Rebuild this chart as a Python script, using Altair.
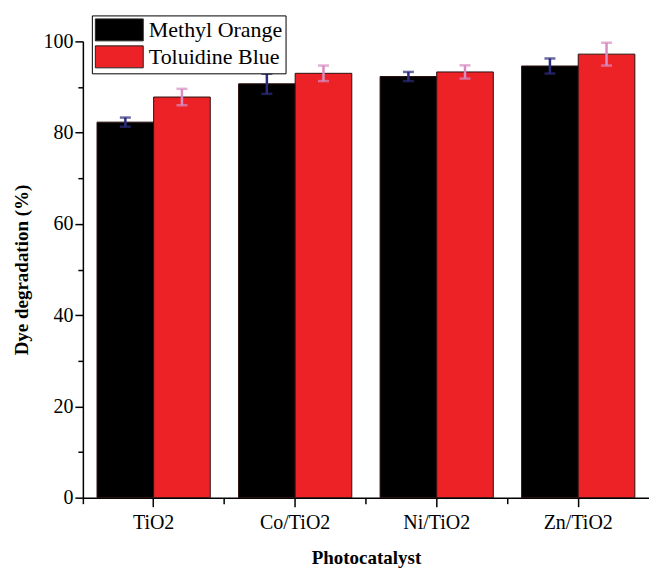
import altair as alt
import pandas as pd

catalysts = ["TiO2", "Co/TiO2", "Ni/TiO2", "Zn/TiO2"]
series = ["Methyl Orange", "Toluidine Blue"]
mo_values = [82.3, 90.7, 92.3, 94.6]
tb_values = [87.8, 93.0, 93.3, 97.2]
mo_err = [1.0, 2.2, 1.0, 1.65]
tb_err = [1.8, 1.7, 1.45, 2.5]
bar_colors = ["#000000", "#ec2227"]
err_colors = ["#2b2c7c", "#d98cc2"]

rows = []
for s_name, vals, errs, ec in zip(series, [mo_values, tb_values], [mo_err, tb_err], err_colors):
    for c, v, e in zip(catalysts, vals, errs):
        rows.append({"catalyst": c, "series": s_name, "value": v,
                     "lo": v - e, "hi": v + e, "ecolor": ec})
df = pd.DataFrame(rows)

FONT = "Liberation Serif"

x_scale = alt.Scale(domain=catalysts, paddingInner=0, paddingOuter=0)
xo_scale = alt.Scale(domain=series, paddingInner=0, paddingOuter=0.25)
y_scale = alt.Scale(domain=[0, 100], nice=False)

major_x = alt.Axis(orient="bottom", title="Photocatalyst", labelAngle=0, tickSize=9,
                   tickWidth=1.5, domainWidth=1.5, labelPadding=6, titlePadding=16,
                   labelFontSize=20, titleFontSize=19)
minor_x = alt.Axis(orient="bottom", title=None, labels=False, domain=False, tickSize=6,
                   tickWidth=1.5, bandPosition=0)
major_y = alt.Axis(orient="left", title="Dye degradation (%)", values=[0, 20, 40, 60, 80, 100],
                   tickSize=8, tickWidth=1.5, domainWidth=1.5, labelPadding=2,
                   titlePadding=11, labelFontSize=20, titleFontSize=19, grid=False)
minor_y = alt.Axis(orient="left", title=None, labels=False, domain=False,
                   values=[10, 30, 50, 70, 90], tickSize=5, tickWidth=1.5, grid=False)

base = alt.Chart(df)

bars = base.mark_bar(stroke="#2a1010", strokeWidth=1).encode(
    x=alt.X("catalyst:N", scale=x_scale, axis=major_x, sort=catalysts),
    xOffset=alt.XOffset("series:N", scale=xo_scale, sort=series),
    y=alt.Y("value:Q", scale=y_scale, axis=major_y),
    color=alt.Color("series:N", scale=alt.Scale(domain=series, range=bar_colors),
                    legend=alt.Legend(
                        title=None, orient="none", legendX=9, legendY=-26,
                        strokeColor="black", fillColor="white", padding=3,
                        symbolType="M-1,-1H3.36V1H-1Z", symbolSize=484,
                        symbolStrokeColor="#222", symbolStrokeWidth=1,
                        labelFont=FONT, labelFontSize=22, labelColor="black",
                        labelOffset=31, rowPadding=0, labelLimit=300)),
)

err_rule = base.mark_rule(strokeWidth=2.5).encode(
    x=alt.X("catalyst:N", scale=x_scale, axis=minor_x, sort=catalysts),
    xOffset=alt.XOffset("series:N", scale=xo_scale, sort=series),
    y=alt.Y("lo:Q", scale=y_scale, axis=minor_y),
    y2="hi:Q",
    color=alt.Color("ecolor:N", scale=None, legend=None),
)

cap_lo = base.mark_tick(size=11, thickness=2.5).encode(
    x=alt.X("catalyst:N", scale=x_scale, axis=None, sort=catalysts),
    xOffset=alt.XOffset("series:N", scale=xo_scale, sort=series),
    y=alt.Y("lo:Q", scale=y_scale, axis=None),
    color=alt.Color("ecolor:N", scale=None, legend=None),
)
cap_hi = base.mark_tick(size=11, thickness=2.5).encode(
    x=alt.X("catalyst:N", scale=x_scale, axis=None, sort=catalysts),
    xOffset=alt.XOffset("series:N", scale=xo_scale, sort=series),
    y=alt.Y("hi:Q", scale=y_scale, axis=None),
    color=alt.Color("ecolor:N", scale=None, legend=None),
)

chart = alt.layer(bars, err_rule, cap_lo, cap_hi).resolve_scale(
    color="independent"
).resolve_axis(x="independent", y="independent").properties(
    width=567, height=457,
    autosize=alt.AutoSizeParams(type="none"),
    padding={"left": 83, "top": 41, "right": 0, "bottom": 70},
    background="white",
).configure_view(stroke=None).configure_axis(
    labelFont=FONT, titleFont=FONT, labelColor="black", titleColor="black",
    domainColor="black", tickColor="black", titleFontWeight="bold",
)

chart.save("out.html", embed_options={"renderer": "svg", "actions": False})
